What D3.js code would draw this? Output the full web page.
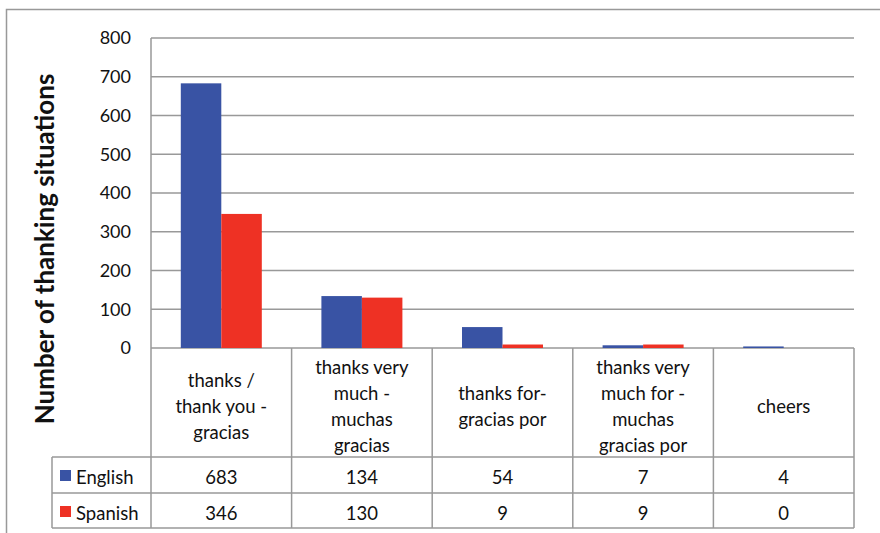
<!DOCTYPE html>
<html>
<head>
<meta charset="utf-8">
<script src="https://cdn.jsdelivr.net/npm/d3@7"></script>
<style>
  body { margin: 0; background: #fff; }
  text { font-family: Lato, "Open Sans", sans-serif; fill: #111; }
</style>
</head>
<body>
<div id="chart"></div>
<script>
// data
const categories = [
    ["thanks /", "thank you -", "gracias"],
    ["thanks very", "much -", "muchas", "gracias"],
    ["thanks for-", "gracias por"],
    ["thanks very", "much for -", "muchas", "gracias por"],
    ["cheers"]
];
const seriesNames = ["English", "Spanish"];
const english = [683, 134, 54, 7, 4];
const spanish = [346, 130, 9, 9, 0];
const yTicks = [0, 100, 200, 300, 400, 500, 600, 700, 800];
const colors = ["#3953a4", "#ee3124"];

const W = 880, H = 533;
const svg = d3.select("#chart").append("svg")
    .attr("width", W)
    .attr("height", H);

// outer frame
svg.append("rect")
    .attr("x", 6.5).attr("y", 9.5)
    .attr("width", W + 10).attr("height", H)
    .attr("fill", "none")
    .attr("stroke", "#999")
    .attr("stroke-width", 1.5);

const plotLeft = 151, plotRight = 854, plotTop = 38, plotBottom = 348;
const tableBottom = 457, row1 = 493, row2 = 528, legendLeft = 52;

const x = d3.scaleBand()
    .domain(d3.range(categories.length))
    .range([plotLeft, plotRight]);

const y = d3.scaleLinear()
    .domain([0, 800])
    .range([plotBottom, plotTop]);

const grid = svg.append("g");
grid.selectAll("line")
    .data(yTicks)
    .enter().append("line")
    .attr("x1", plotLeft).attr("x2", plotRight)
    .attr("y1", d => y(d)).attr("y2", d => y(d))
    .attr("stroke", "#999")
    .attr("stroke-width", 1.5);

grid.append("line")
    .attr("x1", plotLeft).attr("x2", plotLeft)
    .attr("y1", plotTop).attr("y2", plotBottom)
    .attr("stroke", "#999").attr("stroke-width", 1.5);

// y axis tick labels
svg.append("g").selectAll("text")
    .data(yTicks)
    .enter().append("text")
    .attr("x", 131)
    .attr("y", d => y(d))
    .attr("dy", "0.35em")
    .attr("text-anchor", "end")
    .style("font-size", "18px")
    .text(d => d);

// y axis title
svg.append("text")
    .attr("transform", `translate(54, 249) rotate(-90)`)
    .attr("text-anchor", "middle")
    .style("font-size", "26px")
    .style("font-weight", "bold")
    .text("Number of thanking situations");

// bars
const xs = d3.scaleBand()
    .domain([0, 1])
    .range([0, 81]);
const barOffset = (x.bandwidth() - 81) / 2;

[english, spanish].forEach((vals, s) => {
    svg.append("g").selectAll("rect")
        .data(vals)
        .enter().append("rect")
        .attr("x", (d, i) => x(i) + barOffset + xs(s))
        .attr("y", d => y(d))
        .attr("width", xs.bandwidth())
        .attr("height", d => Math.max(0, y(0) - y(d)))
        .attr("fill", colors[s]);
});

// data table
const tbl = svg.append("g")
    .attr("stroke", "#999")
    .attr("stroke-width", 1.5);

// vertical lines for category cells
d3.range(categories.length + 1).forEach(i => {
    const xx = i < categories.length ? x(i) : plotRight;
    tbl.append("line")
        .attr("x1", xx).attr("x2", xx)
        .attr("y1", plotBottom).attr("y2", row2);
});
tbl.append("line")
    .attr("x1", legendLeft).attr("x2", legendLeft)
    .attr("y1", tableBottom).attr("y2", row2);
[tableBottom, row1, row2].forEach(yy => {
    tbl.append("line")
        .attr("x1", legendLeft).attr("x2", plotRight)
        .attr("y1", yy).attr("y2", yy);
});

// category labels
categories.forEach((lines, i) => {
    const cy = 407;
    const lh = 26;
    const t = svg.append("text")
        .attr("text-anchor", "middle")
        .style("font-size", "18.5px");
    lines.forEach((ln, k) => {
        t.append("tspan")
            .attr("x", x(i) + x.bandwidth() / 2)
            .attr("y", cy + (k - (lines.length - 1) / 2) * lh)
            .attr("dy", "0.35em")
            .text(ln);
    });
});

// table rows
[english, spanish].forEach((vals, s) => {
    const cy = s === 0 ? 478 : 514;
    svg.append("rect")
        .attr("x", 60).attr("y", cy - 8)
        .attr("width", 11).attr("height", 11)
        .attr("fill", colors[s]);
    svg.append("text")
        .attr("x", 76).attr("y", cy)
        .attr("dy", "0.35em")
        .style("font-size", "18.5px")
        .text(seriesNames[s]);
    svg.append("g").selectAll("text")
        .data(vals)
        .enter().append("text")
        .attr("x", (d, i) => x(i) + x.bandwidth() / 2)
        .attr("y", cy)
        .attr("dy", "0.35em")
        .attr("text-anchor", "middle")
        .style("font-size", "18.5px")
        .text(d => d);
});
</script>
</body>
</html>
